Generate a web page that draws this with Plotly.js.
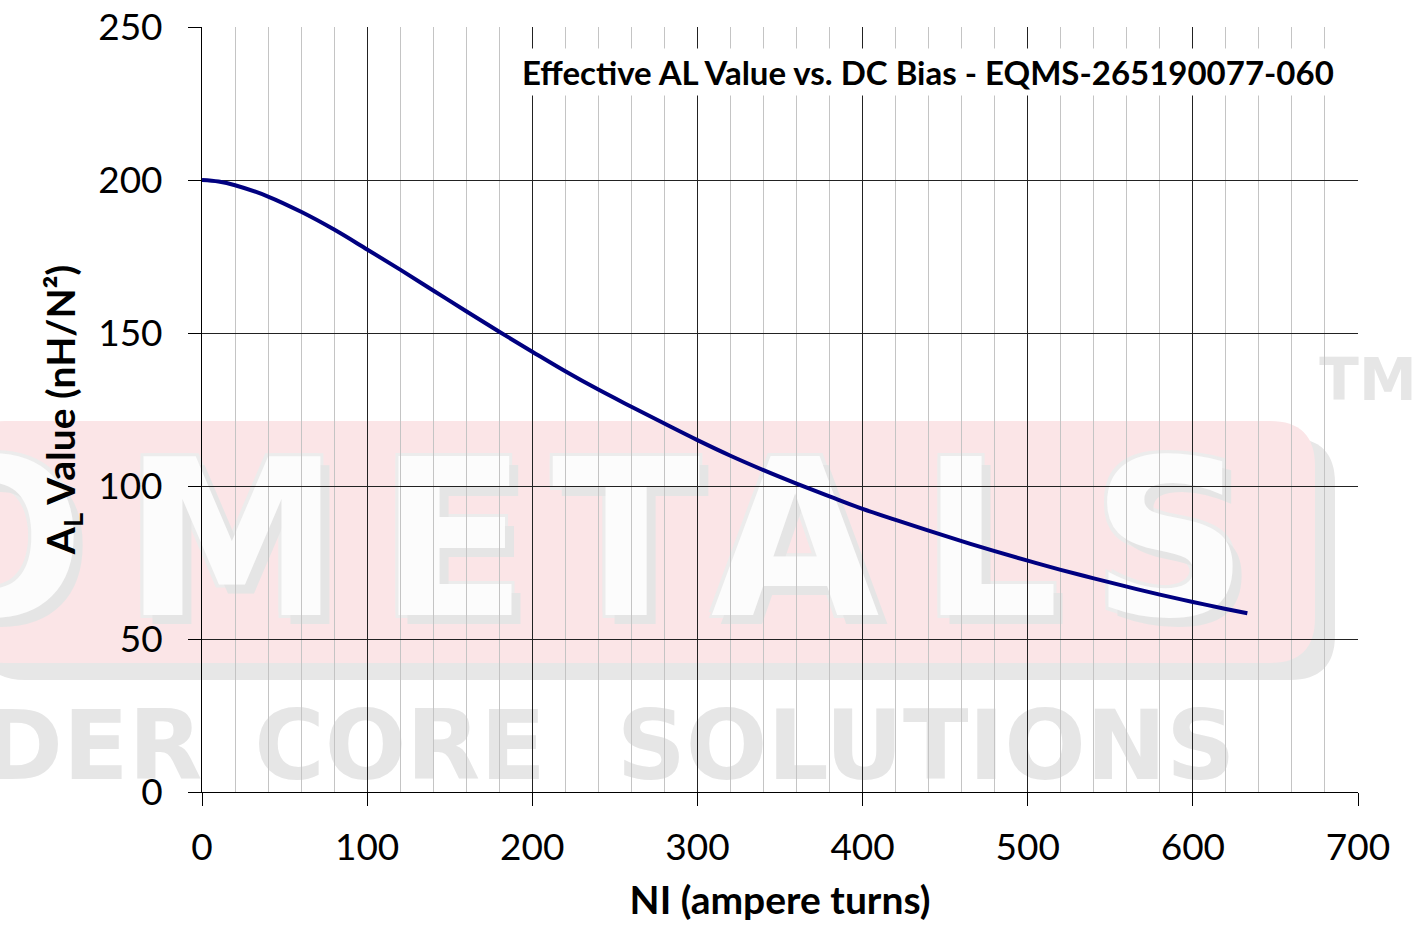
<!DOCTYPE html>
<html>
<head>
<meta charset="utf-8">
<script src="https://cdn.plot.ly/plotly-3.0.1.min.js"></script>
<style>html,body{margin:0;padding:0;background:#fff;}</style>
</head>
<body>
<div id="chart" style="width:1415px;height:929px;"></div>
<script>
// ---- data ----
const niAmpereTurns = [0,10,20,40,60,80,100,120,140,160,180,200,220,240,260,280,300,320,340,360,380,400,420,440,460,480,500,520,540,560,580,600,620,633];
const alValue = [200,199.5,198.3,194.6,189.6,183.8,177.3,170.7,163.9,157.1,150.4,143.9,137.5,131.5,125.9,120.4,115.0,109.9,105.2,100.8,96.6,92.5,88.9,85.4,82.0,78.7,75.6,72.6,69.8,67.1,64.5,62.1,59.8,58.4];
const chartTitle = 'Effective AL Value vs. DC Bias - EQMS-265190077-060';
const xTitle = 'NI (ampere turns)';
const yTitle = 'A<sub>L</sub> Value (nH/N²)';

// ---- geometry of plot area (px) for watermark placement ----
const W = 1415, H = 929;
const M = {l:202, r:57, t:27, b:137};
const PW = W - M.l - M.r, PH = H - M.t - M.b;
const X = px => (px - M.l) / PW;
const Y = py => (H - M.b - py) / PH;

function roundRect(x0, y0, x1, y1, r) {
  const f = v => v.toFixed(5);
  return 'M' + f(X(x0 + r)) + ',' + f(Y(y0)) +
    ' L' + f(X(x1 - r)) + ',' + f(Y(y0)) +
    ' Q' + f(X(x1)) + ',' + f(Y(y0)) + ' ' + f(X(x1)) + ',' + f(Y(y0 + r)) +
    ' L' + f(X(x1)) + ',' + f(Y(y1 - r)) +
    ' Q' + f(X(x1)) + ',' + f(Y(y1)) + ' ' + f(X(x1 - r)) + ',' + f(Y(y1)) +
    ' L' + f(X(x0 + r)) + ',' + f(Y(y1)) +
    ' Q' + f(X(x0)) + ',' + f(Y(y1)) + ' ' + f(X(x0)) + ',' + f(Y(y1 - r)) +
    ' L' + f(X(x0)) + ',' + f(Y(y0 + r)) +
    ' Q' + f(X(x0)) + ',' + f(Y(y0)) + ' ' + f(X(x0 + r)) + ',' + f(Y(y0)) + ' Z';
}

function textShape(text, cx, cy, size, color, weight, shadow) {
  return {
    type: 'rect', xref: 'paper', yref: 'paper', layer: 'below',
    x0: X(cx - 5), x1: X(cx + 5), y0: Y(cy + 5), y1: Y(cy - 5),
    line: {width: 0}, fillcolor: 'rgba(0,0,0,0)',
    label: {
      text: text, textposition: 'middle center',
      font: {family: 'DejaVu Sans', size: size, color: color, weight: weight, shadow: shadow || 'none'}
    }
  };
}

const shapes = [
  {type:'path', xref:'paper', yref:'paper', layer:'below', path: roundRect(-20, 438, 1335, 680, 45), fillcolor:'#e7e7e7', line:{width:0}},
  {type:'path', xref:'paper', yref:'paper', layer:'below', path: roundRect(-40, 421, 1315, 663, 45), fillcolor:'#fbe5e7', line:{width:0}}
];
const wmShadow = '9px 9px 0 #e5e5e5, -3px -3px 0 #ececec, 3px -3px 0 #ececec, -3px 3px 0 #ececec';
[['O', -8], ['M', 232], ['E', 453], ['T', 626], ['A', 795], ['L', 990], ['S', 1170]].forEach(([t, cx]) => {
  shapes.push(textShape(t, cx, 523, 218, '#fcfcfc', 'bold', wmShadow));
});
[['POWDER', -36], ['CORE', 400], ['SOLUTIONS', 926]].forEach(([t, cx]) => {
  shapes.push(textShape(t, cx, 739, 96, '#e6e6e6', 'bold'));
});
shapes.push(textShape('TM', 1368, 376, 58, '#e6e6e6', 'bold'));

const trace = {
  x: niAmpereTurns, y: alValue, type: 'scatter', mode: 'lines',
  line: {color: '#000080', width: 4, shape: 'spline', smoothing: 1},
  hoverinfo: 'skip', showlegend: false
};

const fam = 'Lato, "Open Sans", sans-serif';
const tickFont = {family: fam, size: 37, color: '#000'};
const titleFont = {family: fam, size: 39, color: '#000', weight: 'bold'};

const layout = {
  width: W, height: H,
  margin: {l: M.l, r: M.r, t: M.t, b: M.b, pad: 0},
  paper_bgcolor: '#ffffff', plot_bgcolor: '#ffffff',
  showlegend: false,
  xaxis: {
    range: [0, 700], tick0: 0, dtick: 100, tickmode: 'linear',
    showgrid: true, gridcolor: '#222222', gridwidth: 1,
    minor: {dtick: 20, tick0: 0, showgrid: true, gridcolor: '#c4c4c4', gridwidth: 1, ticks: ''},
    ticks: 'outside', ticklen: 13, tickwidth: 1, tickcolor: '#000',
    showline: true, linecolor: '#000', linewidth: 1, zeroline: false,
    tickfont: tickFont, ticklabelstandoff: 10,
    title: {text: '<b>' + xTitle + '</b>', font: titleFont, standoff: 19}
  },
  yaxis: {
    range: [0, 250], tick0: 0, dtick: 50, tickmode: 'linear',
    showgrid: true, gridcolor: '#222222', gridwidth: 1,
    ticks: 'outside', ticklen: 13, tickwidth: 1, tickcolor: '#000',
    showline: true, linecolor: '#000', linewidth: 1, zeroline: false,
    tickfont: tickFont, ticklabelstandoff: 18,
    title: {text: '<b>' + yTitle + '</b>', font: titleFont, standoff: 10}
  },
  annotations: [{
    xref: 'paper', yref: 'paper', x: X(1338), y: Y(72), xanchor: 'right', yanchor: 'middle',
    text: '<b>' + chartTitle + '</b>', showarrow: false,
    font: {family: fam, size: 33, color: '#000'},
    bgcolor: '#ffffff', borderpad: 3
  }],
  shapes: shapes
};

Plotly.newPlot('chart', [trace], layout, {displayModeBar: false, staticPlot: true});
</script>
</body>
</html>
